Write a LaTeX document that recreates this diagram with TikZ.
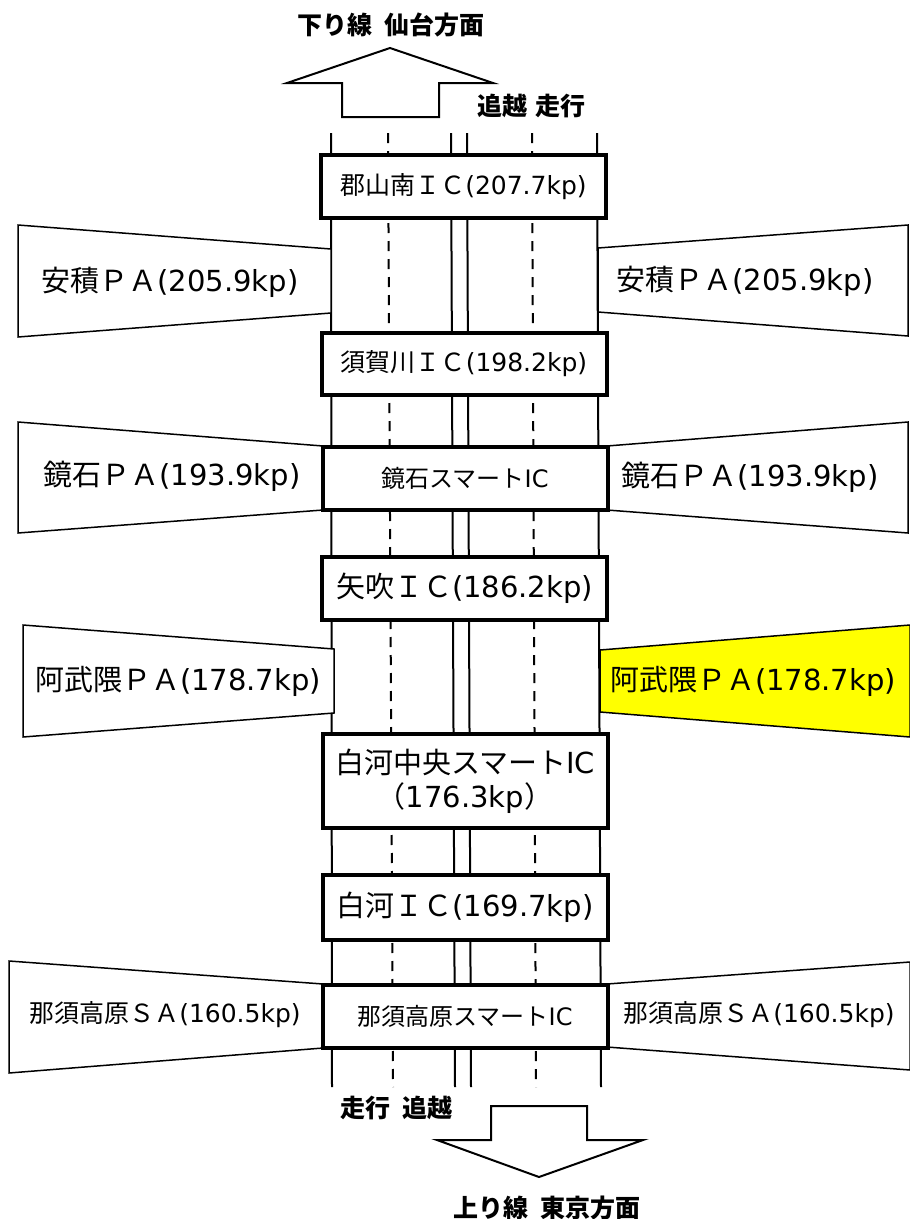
\documentclass[tikz,border=0pt]{standalone}
\usepackage{fontspec}
\setmainfont{DejaVu Sans}
\newfontfamily\jp{Noto Sans CJK JP}
\definecolor{payellow}{RGB}{255,255,0}
\tikzset{
  road/.style={line width=2pt},
  lane/.style={line width=2pt, dash pattern=on 10pt off 8pt},
  icbox/.style={draw, line width=4pt, fill=white, minimum width=285pt, inner sep=0pt, align=center},
  pa/.style={draw, line width=1.5pt, fill=white, line join=miter},
  bigarrow/.style={draw, line width=2pt, fill=white, line join=miter},
  hdr/.style={inner sep=0pt, font=\jp\bfseries\fontsize{25}{28}\selectfont},
  patext/.style={inner sep=0pt, font=\fontsize{29}{33}\selectfont},
  patextsm/.style={inner sep=0pt, font=\fontsize{25}{29}\selectfont},
  ictext/.style={font=\fontsize{25}{29}\selectfont},
  ictextbig/.style={font=\fontsize{29}{34}\selectfont},
  ictextsm/.style={font=\fontsize{24}{28}\selectfont},
}
\begin{document}
\begin{tikzpicture}[x=1pt,y=-1pt]
\useasboundingbox (0,0) rectangle (910,1219);
\fill[white] (0,0) rectangle (910,1219);

% direction arrows
\draw[bigarrow] (390,48) -- (493,83) -- (439,83) -- (439,117) -- (342,117) -- (342,83) -- (287,83) -- cycle;
\draw[bigarrow] (491,1106) -- (587,1106) -- (587,1140) -- (643,1140) -- (539,1177) -- (437,1140) -- (491,1140) -- cycle;
\node[hdr] (down) at (391,25) {下り線\hspace{12pt}仙台方面};
\node[hdr] (up) at (547,1208) {上り線\hspace{12pt}東京方面};
\node[hdr] (lanesTop) at (531,106) {追越\hspace{8pt}走行};
\node[hdr] (lanesBot) at (396,1108) {走行\hspace{12pt}追越};

% road lines
\draw[road] (331,133) -- (332,1087);
\draw[lane] (388,133) -- (393,1087);
\draw[road] (451,133) -- (455,1087);
\draw[road] (467,133) -- (471,1087);
\draw[lane] (532,133) -- (536,1087);
\draw[road] (597,133) -- (601,1087);

% parking areas
\draw[pa] (18,225) -- (331,249) -- (331,313) -- (18,337) -- cycle;
\node[patext] (pa1L) at (170,282) {{\jp 安積ＰＡ}(205.9kp)};
\draw[pa] (598,248) -- (908,225) -- (908,336) -- (598,312) -- cycle;
\node[patext] (pa1R) at (745,281) {{\jp 安積ＰＡ}(205.9kp)};

\draw[pa] (18,422) -- (323,446) -- (323,510) -- (18,533) -- cycle;
\node[patext] (pa2L) at (172,476) {{\jp 鏡石ＰＡ}(193.9kp)};
\draw[pa] (607,446) -- (908,422) -- (908,533) -- (607,510) -- cycle;
\node[patext] (pa2R) at (750,477) {{\jp 鏡石ＰＡ}(193.9kp)};

\draw[pa] (23,625) -- (334,649) -- (334,713) -- (23,737) -- cycle;
\node[patext] (pa3L) at (178,681) {{\jp 阿武隈ＰＡ}(178.7kp)};
\draw[pa, fill=payellow] (600,650) -- (910,625) -- (910,737) -- (600,712) -- cycle;
\node[patext] (pa3R) at (753,681) {{\jp 阿武隈ＰＡ}(178.7kp)};

\draw[pa] (9,961) -- (323,984) -- (323,1048) -- (9,1073) -- cycle;
\node[patextsm] (pa4L) at (165,1015) {{\jp 那須高原ＳＡ}(160.5kp)};
\draw[pa] (607,984) -- (910,962) -- (910,1070) -- (607,1047) -- cycle;
\node[patextsm] (pa4R) at (759,1015) {{\jp 那須高原ＳＡ}(160.5kp)};

% interchanges
\node[icbox, ictext, minimum height=63pt] (ic1) at (463.5,186.5) {{\jp 郡山南ＩＣ}(207.7kp)};
\node[icbox, ictext, minimum height=62pt] (ic2) at (464,364) {{\jp 須賀川ＩＣ}(198.2kp)};
\node[icbox, ictextsm, minimum height=63pt] (ic3) at (465,478.5) {{\jp 鏡石スマート}IC};
\node[icbox, ictextbig, minimum height=63pt] (ic4) at (464.5,588.5) {{\jp 矢吹ＩＣ}(186.2kp)};
\node[icbox, ictextbig, minimum height=94pt] (ic5) at (465,781) {{\jp 白河中央スマート}IC\\{\jp （}176.3kp{\jp ）}};
\node[icbox, ictextbig, minimum height=65pt] (ic6) at (465,907.5) {{\jp 白河ＩＣ}(169.7kp)};
\node[icbox, ictextsm, minimum height=63pt] (ic7) at (465,1016.5) {{\jp 那須高原スマート}IC};
\end{tikzpicture}
\end{document}
